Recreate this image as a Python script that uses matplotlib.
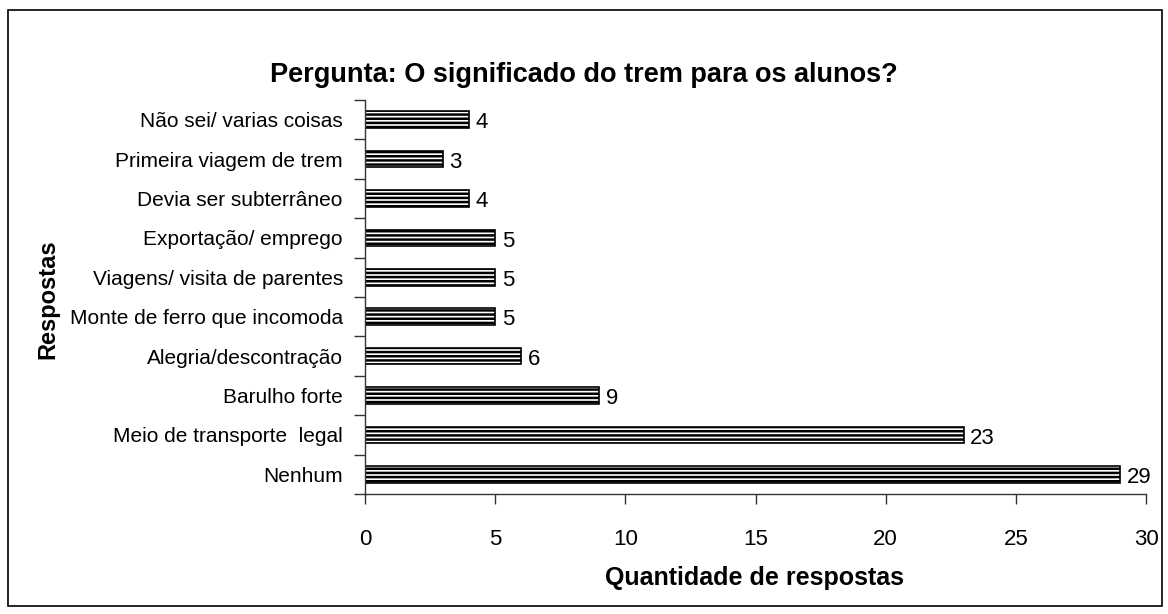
import matplotlib
matplotlib.use("Agg")
import matplotlib.pyplot as plt
from matplotlib.patches import Rectangle

plt.rcParams["font.family"] = ["Liberation Sans", "DejaVu Sans"]
plt.rcParams["hatch.linewidth"] = 1.8

categories = ["Nenhum", "Meio de transporte  legal", "Barulho forte",
              "Alegria/descontração", "Monte de ferro que incomoda",
              "Viagens/ visita de parentes", "Exportação/ emprego",
              "Devia ser subterrâneo", "Primeira viagem de trem",
              "Não sei/ varias coisas"]
values = [29, 23, 9, 6, 5, 5, 5, 4, 3, 4]
xticks = [0, 5, 10, 15, 20, 25, 30]

fig = plt.figure(figsize=(11.68, 6.14), dpi=100)
fig.patches.append(Rectangle((8 / 1168, 1 - 606 / 614), 1154 / 1168, 596 / 614,
                             transform=fig.transFigure, fill=False,
                             edgecolor="black", linewidth=1.2))

ax = fig.add_axes([365 / 1168, 1 - 494 / 614, 781 / 1168, 394 / 614])
pos = list(range(len(categories)))
ax.barh(pos, values, height=0.42, color="white", edgecolor="black",
        hatch="----", linewidth=1.2)
for p, v in zip(pos, values):
    ax.text(v + 0.25, p - 0.08, str(v), va="center", ha="left", fontsize=16)

ax.set_xlim(0, 30)
ax.set_ylim(-0.5, len(categories) - 0.5)
ax.set_xticks(xticks)
ax.set_xticklabels([str(t) for t in xticks], fontsize=16)
ax.tick_params(axis="x", direction="out", length=7, width=1, pad=18, colors="#333333",
               labelcolor="black")
ax.set_yticks(pos)
ax.set_yticklabels(categories, fontsize=15)
ax.set_yticks([p - 0.5 for p in pos] + [len(pos) - 0.5], minor=True)
ax.tick_params(axis="y", which="major", length=0, pad=16)
ax.tick_params(axis="y", which="minor", direction="out", length=8, width=1, colors="#333333")
for s in ["top", "right"]:
    ax.spines[s].set_visible(False)
for s in ["left", "bottom"]:
    ax.spines[s].set_color("#333333")
    ax.spines[s].set_linewidth(1)

fig.text(584 / 1168, 1 - 75 / 614, "Pergunta: O significado do trem para os alunos?",
         ha="center", va="center", fontsize=19.5, fontweight="bold")
fig.text(48 / 1168, 1 - 299 / 614, "Respostas", rotation=90, ha="center", va="center",
         fontsize=17, fontweight="bold")
fig.text(755 / 1168, 1 - 578 / 614, "Quantidade de respostas", ha="center", va="center",
         fontsize=18, fontweight="bold")

fig.savefig("out.png", dpi=100)
